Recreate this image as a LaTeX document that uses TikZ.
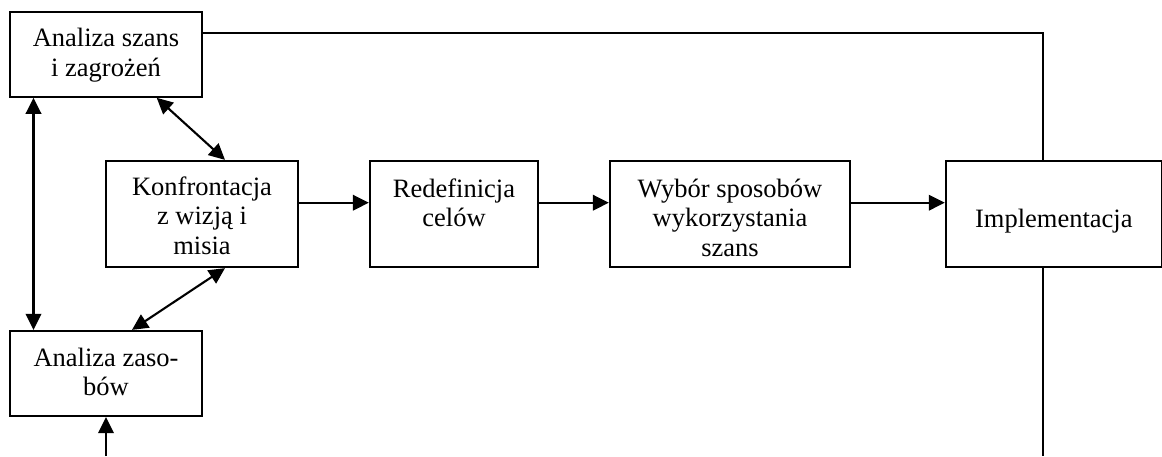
\documentclass[tikz,border=0pt]{standalone}
\usepackage{fontspec}
\setmainfont{Liberation Serif}
\usetikzlibrary{arrows.meta}
\newcommand\mylines[1]{{\fontsize{26.5}{29.5}\selectfont\begin{tabular}{@{}c@{}}#1\end{tabular}}}
\begin{document}
\begin{tikzpicture}[x=1pt,y=-1pt,line width=2.1pt,
  box/.style={draw,rectangle,inner sep=0pt,line width=2.3pt},
  lbl/.style={inner sep=0pt},
  arr/.style={-{Triangle[length=16pt,width=15.5pt]}},
  darr/.style={{Triangle[length=16pt,width=15.5pt]}-{Triangle[length=16pt,width=15.5pt]}}]
\useasboundingbox (0,0) rectangle (1162,456);
\node[box,minimum width=192pt,minimum height=84.7pt,
  label={[lbl,yshift=-1.4pt]center:\mylines{Analiza szans\\i zagrożeń}}] (A) at (106,54.3) {};
\node[box,minimum width=192pt,minimum height=85pt,
  label={[lbl,yshift=-1.4pt]center:\mylines{Analiza zaso-\\bów}}] (B) at (106,373.5) {};
\node[box,minimum width=192pt,minimum height=106pt,
  label={[lbl,yshift=-4.6pt]center:\mylines{Konfrontacja\\z wizją i\\misia}}] (K) at (202,214) {};
\node[box,minimum width=168pt,minimum height=106pt,
  label={[lbl,yshift=7.8pt]center:\mylines{Redefinicja\\celów}}] (R) at (454,213.7) {};
\node[box,minimum width=240pt,minimum height=106pt,
  label={[lbl,yshift=-6.9pt]center:\mylines{Wybór sposobów\\wykorzystania\\szans}}] (W) at (730,213.7) {};
\node[box,minimum width=215.7pt,minimum height=106pt,
  label={[lbl,yshift=-7.4pt]center:\mylines{Implementacja}}] (I) at (1053.8,214) {};
\coordinate (tr) at (1042.7,32.7);
\coordinate (br) at (1042.7,456);
\coordinate (bl) at (106,456);
\coordinate (lx) at (33.5,0);
\coordinate (d1) at (156.7,0);
\coordinate (d2) at (225,0);
\coordinate (d3) at (132,0);
\coordinate (hy) at (0,202.7);
\draw (A.east |- tr) -- (tr) -- (I.north -| tr);
\draw (I.south -| br) -- (br);
\draw[arr] (bl) -- (B.south);
\draw[darr] (A.south -| lx) -- (B.north -| lx);
\draw[darr] (A.south -| d1) -- (K.north -| d2);
\draw[darr] (K.south -| d2) -- (B.north -| d3);
\draw[arr] (K.east |- hy) -- (R.west |- hy);
\draw[arr] (R.east |- hy) -- (W.west |- hy);
\draw[arr] (W.east |- hy) -- (I.west |- hy);
\end{tikzpicture}
\end{document}
